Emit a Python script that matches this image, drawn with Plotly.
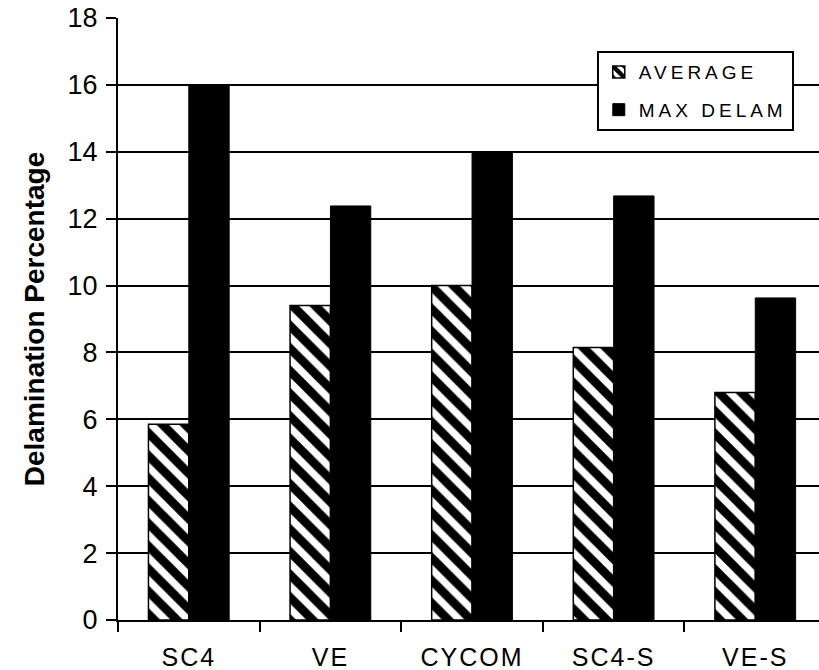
import plotly.graph_objects as go

categories = ["SC4", "VE", "CYCOM", "SC4-S", "VE-S"]
average = [5.85, 9.4, 10.0, 8.15, 6.8]
max_delam = [16.0, 12.38, 14.0, 12.68, 9.63]
y_ticks = [0, 2, 4, 6, 8, 10, 12, 14, 16, 18]

FONT = "Liberation Sans, Arial, Helvetica, sans-serif"


def spaced(text, px):
    return f"<span style='letter-spacing:{px}px'>{text}</span>"


fig = go.Figure()
fig.add_trace(go.Bar(
    x=categories, y=average, name=spaced("AVERAGE", 4), legendgroup="a",
    marker=dict(color="white", line=dict(color="black", width=1.5),
                pattern=dict(shape="\\", fgcolor="black", bgcolor="white",
                             fgopacity=1, size=16, solidity=0.55)),
))
fig.add_trace(go.Bar(
    x=categories, y=max_delam, name=spaced("MAX DELAM", 4), legendgroup="b",
    marker=dict(color="black", line=dict(color="black", width=1)),
))

fig.update_layout(
    width=819, height=670,
    margin=dict(l=118, r=0, t=18, b=50, autoexpand=False),
    paper_bgcolor="white", plot_bgcolor="white",
    font=dict(family=FONT, color="black"),
    barmode="group", bargap=0.43, bargroupgap=0,
    showlegend=True,
    legend=dict(x=0.683, y=0.945, xanchor="left", yanchor="top",
                bgcolor="white", bordercolor="black", borderwidth=2,
                font=dict(size=19, family=FONT), tracegroupgap=10),
    xaxis=dict(range=[-0.5, 4.45], showline=True, linecolor="black", linewidth=2,
               tickvals=categories, ticktext=[spaced(c, 2) for c in categories],
               ticks="outside", tickson="boundaries", ticklen=10, tickwidth=2,
               tickcolor="black", showgrid=False,
               tickfont=dict(size=25, family=FONT), ticklabelstandoff=14),
    yaxis=dict(range=[0, 18], tickvals=y_ticks, showline=True, linecolor="black",
               linewidth=2, ticks="outside", ticklen=10, tickwidth=2, tickcolor="black",
               showgrid=True, gridcolor="black", gridwidth=2, zeroline=False,
               tickfont=dict(size=27, family=FONT), ticklabelstandoff=3,
               title=dict(text="<b>Delamination Percentage</b>",
                          font=dict(size=28, family=FONT), standoff=15)),
)

fig.write_html("out.html", config={"displayModeBar": False},
               post_script="document.body.style.margin='0px';")
